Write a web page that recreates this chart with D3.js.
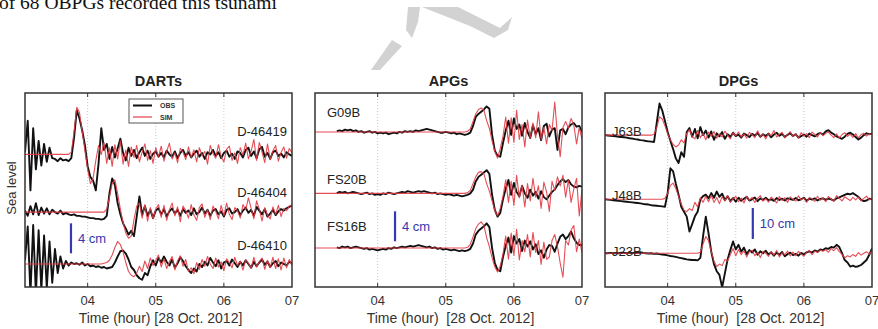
<!DOCTYPE html>
<html>
<head>
<meta charset="utf-8">
<script src="https://cdn.jsdelivr.net/npm/d3@7"></script>
<style>
  body { margin: 0; background: #fff; }
  svg { display: block; }
</style>
</head>
<body>
<script>
// time axis: samples every 0.04 h starting 03:05 (3.08 h)
const t0 = 3.08
const dt = 0.04
const hourTicks = [4, 5, 6, 7]
const tickLabels = ['04', '05', '06', '07']

// DARTs (cm)
const d46419Obs = [0.3, 4.5, -4.8, 3.5, -2.0, 1.8, -1.5, 1.4, -1.0, 0.9,
  -0.5, -0.6, -0.9, -0.5, -0.8, -0.7, -0.9, -0.5, 2.2, 5.9,
  4.8, 3.2, 1.2, -1.6, -3.0, -3.5, -4.8, -1.2, 3.5, 0.6,
  1.4, -0.6, 1.0, -0.4, 0.8, 2.1, 0.2, -0.8, 0.9, -0.2,
  0.6, -0.5, 0.3, 0.9, -0.2, 0.5, -0.6, 0.1, 0.4, -0.3,
  0.2, -0.4, 0.5, 0.0, -0.3, 0.4, -0.5, 0.2, 0.6, -0.2,
  0.3, -0.4, 0.1, 0.5, -0.3, 0.2, -0.6, 0.3, 0.0, 0.6,
  -0.2, 0.3, -0.5, 0.2, 0.5, -0.3, 0.1, -0.6, 0.4, 0.2,
  -0.4, 0.6, 0.9, -0.2, 0.4, -0.5, 0.7, 1.0, -0.3, 0.2,
  -0.6, 0.3, 0.5, -0.2, 0.1, -0.4, 0.3, 0.0, -0.2]
const d46419Sim = [0, 0, 0, 0, 0, 0, 0, 0, 0, 0,
  0, 0, 0, 0, 0, 0, 0, 0.3, 3.0, 6.3,
  5.6, 3.0, 0.5, -2.0, -3.9, -3.2, -0.8, 1.2, 0.0, 1.6,
  -1.2, 0.9, -1.6, 1.3, -0.6, 1.8, -1.3, 0.6, -1.6, 1.0,
  -0.4, 1.2, -1.0, 0.3, 1.4, -0.8, 0.5, -1.2, 0.9, -0.3,
  1.1, -0.9, 0.4, 1.5, -0.6, 0.2, -1.1, 0.8, 0.3, -0.7,
  1.0, -0.4, 0.6, -1.0, 0.9, -0.2, 0.4, -1.3, 1.2, 0.1,
  -0.5, 1.3, -0.3, -1.0, 0.7, 1.1, -0.8, 0.2, -1.2, 0.9,
  -0.1, 1.5, -0.6, 0.4, 2.0, -0.8, 1.6, 0.3, -1.1, 1.4,
  -0.7, 0.5, 1.2, -0.9, 0.3, 1.0, -0.5, 0.8, 0.2]
const d46404Obs = [0.2, -0.5, 0.8, -0.3, 1.2, -0.4, 0.6, -0.2, 0.5, -0.3,
  0.3, 0.0, -0.2, 0.2, -0.3, -0.1, -0.3, -0.4, -0.3, -0.5,
  -0.5, -0.6, -0.6, -0.7, -0.8, -0.8, -0.9, -0.9, -1.0, -0.9,
  -0.5, 2.5, 4.5, 3.6, 1.2, -0.3, -1.5, -2.2, -3.0, -2.5,
  -3.2, -0.6, 2.1, -0.4, 0.8, -0.5, 0.3, -0.8, 0.2, 0.5,
  -0.3, 0.4, -0.6, 0.1, 0.5, -0.2, 0.3, -0.5, 0.4, -0.1,
  0.2, -0.4, 0.5, -0.3, 0.0, 0.6, -0.2, 0.3, -0.5, 0.2,
  0.4, -0.3, 0.1, -0.6, 0.3, 0.5, -0.2, 0.0, 0.4, -0.4,
  0.2, 0.6, -0.1, 0.3, -0.5, 0.7, 0.2, -0.3, 0.4, -0.6,
  -0.2, 0.3, -0.4, 0.1, 0.4, 0.2, 0.5, 0.7, 0.9]
const d46404Sim = [0, 0, 0, 0, 0, 0, 0, 0, 0, 0,
  0, 0, 0, 0, 0, 0, 0, 0, 0, 0,
  0, 0, 0, 0, 0, 0, 0, 0, 0, 0,
  0.4, 2.0, 3.8, 4.3, 2.5, 0.4, -1.4, -2.8, -3.5, -3.2,
  -1.0, 0.8, 1.2, -0.8, 1.0, -1.2, 0.6, -0.9, 0.4, 1.0,
  -0.7, 0.9, -1.1, 0.3, 1.2, -0.5, 0.7, -1.3, 0.8, 0.2,
  -0.8, 1.0, -0.4, -1.1, 0.6, 1.1, -0.7, 0.3, -1.0, 0.8,
  0.1, -0.9, 0.9, -0.5, 1.2, -0.3, -1.0, 0.6, 0.2, -0.8,
  1.0, 0.3, 1.9, 0.5, -0.9, 1.5, 0.4, -1.2, 0.6, -0.4,
  -0.9, 0.7, -0.3, 0.9, -0.6, 0.5, 0.2, 0.8, 0.9]
const d46410Obs = [0.5, 5.0, -4.0, 5.2, -4.0, 4.5, -3.5, 3.8, -3.2, 3.0,
  -2.5, 2.0, -1.2, 1.0, -0.6, 0.4, -0.2, 0.2, 0.0, 0.1,
  -0.1, 0.2, -0.2, 0.0, -0.3, -0.2, -0.4, -0.3, -0.5, -0.4,
  -0.6, -0.5, -0.4, 0.2, 1.0, 1.7, 1.8, 1.4, 0.6, -0.4,
  -0.8, -1.5, -1.9, -2.1, -1.2, -1.5, -0.3, 0.5, -0.2, 0.8,
  0.2, 1.0, 0.3, -0.2, 0.6, -0.5, 0.1, 0.9, 0.4, -0.3,
  -0.8, -1.2, -0.6, -1.0, 0.0, -0.4, 0.3, -0.2, 0.8, 0.2,
  -0.3, 0.5, -0.6, 0.2, 0.4, -0.2, 0.6, 0.1, -0.4, 0.3,
  -0.2, 0.5, 0.0, -0.5, 0.3, -0.3, 0.2, 0.6, -0.1, 0.3,
  -0.4, 0.1, 0.4, -0.3, 0.2, 0.0, -0.2, 0.3, 0.1]
const d46410Sim = [0, 0, 0, 0, 0, 0, 0, 0, 0, 0,
  0, 0, 0, 0, 0, 0, 0, 0, 0, 0,
  0, 0, 0, 0, 0, 0, 0, 0, 0, 0.1,
  0.2, 0.5, 1.2, 2.2, 3.0, 2.6, 1.6, 0.2, -1.0, -1.5,
  -1.7, -1.2, -0.3, -1.0, 0.4, -0.6, 0.8, -0.2, 0.5, 1.2,
  -0.4, 0.7, -0.6, 0.3, 1.0, -0.8, 0.4, 1.1, -0.3, 0.6,
  -1.0, -0.5, -1.3, 0.2, -0.7, 0.6, -0.3, 1.0, 0.0, -0.6,
  0.8, -0.4, 0.3, -0.9, 0.7, 0.2, -0.5, 0.9, -0.2, 0.4,
  -0.8, 0.6, 0.1, -0.6, 0.9, -0.4, 0.3, 0.8, -0.7, 0.5,
  -0.5, 0.9, -0.6, 0.7, -0.8, 0.8, -0.5, 0.6, -0.2]

// APGs (cm), no OBS record before 03:24
const g09bObs = [null, null, null, null, null, null, null, null, 0.1, 0.2,
  0.1, 0.3, 0.2, 0.3, 0.1, 0.2, 0.0, 0.1, -0.1, 0.0,
  0.1, -0.1, 0.0, -0.2, -0.1, -0.2, -0.1, -0.3, -0.2, -0.1,
  -0.2, 0.0, -0.1, 0.1, 0.0, 0.1, 0.0, 0.2, 0.1, 0.2,
  0.3, 0.4, 0.3, 0.2, 0.1, 0.0, -0.1, -0.1, 0.0, -0.1,
  -0.2, -0.1, -0.3, -0.2, -0.3, -0.4, -0.3, -0.1, 0.8, 2.0,
  2.4, 2.7, 3.0, 3.4, 3.1, -0.4, -2.5, -3.2, -3.3, -1.5,
  0.2, 1.5, -0.4, 1.8, 0.4, 1.0, -0.5, 1.2, 0.0, -0.8,
  0.9, -0.3, 0.5, -1.1, 0.8, 1.1, -0.6, 0.3, 0.5, -2.4,
  0.2, 0.4, -0.3, 0.6, 1.0, 1.2, 0.7, 0.8, 0.0]
const g09bSim = [0, 0, 0, 0, 0, 0, 0, 0, 0, 0,
  0, 0, 0, 0, 0, 0, 0, 0, 0, 0,
  0, 0, 0, 0, 0, 0, 0, 0, 0, 0,
  0, 0, 0, 0, 0, 0, 0, 0, 0, 0,
  0, 0, 0, 0, 0, 0, 0, 0, 0, 0,
  0, 0, 0, 0, 0, 0, 0.1, 0.4, 1.4, 2.4,
  3.0, 3.2, 2.9, 1.5, 0.5, -1.2, -2.6, -3.5, -2.2, -0.6,
  2.0, -1.5, 1.9, -1.4, 2.9, -1.0, 1.0, -2.0, 1.6, -0.8,
  1.2, -0.8, 2.7, -1.0, 0.6, -1.6, 1.0, 0.2, 4.0, -0.5,
  -3.3, 0.6, 1.4, 0.5, 1.8, 0.9, -1.6, 0.6, -1.0]
const fs20bObs = [null, null, null, null, null, null, null, null, 0.0, 0.2,
  0.1, 0.2, 0.0, 0.1, 0.2, 0.1, 0.0, -0.1, 0.0, 0.1,
  -0.1, 0.0, -0.2, -0.1, -0.2, 0.0, -0.1, 0.1, 0.0, -0.1,
  0.0, 0.1, 0.2, 0.1, 0.3, 0.2, 0.1, 0.2, 0.3, 0.2,
  0.3, 0.2, 0.1, 0.0, 0.1, -0.1, 0.0, -0.1, -0.2, -0.1,
  -0.2, -0.3, -0.2, -0.3, -0.4, -0.3, -0.2, 0.0, 0.5, 1.6,
  2.2, 2.5, 2.8, 3.1, 2.6, -0.2, -2.2, -3.1, -2.6, -0.8,
  0.6, 1.8, -0.2, 1.4, 0.2, -0.4, 1.0, 0.0, -0.6, 0.5,
  -0.3, 0.2, -0.7, 0.3, -0.5, -0.8, -0.3, 0.2, 0.5, 1.1,
  1.6, 1.9, 1.5, 1.8, 1.2, 0.9, 0.8, 1.0, 0.9]
const fs20bSim = [0, 0, 0, 0, 0, 0, 0, 0, 0, 0,
  0, 0, 0, 0, 0, 0, 0, 0, 0, 0,
  0, 0, 0, 0, 0, 0, 0, 0, 0, 0,
  0, 0, 0, 0, 0, 0, 0, 0, 0, 0,
  0, 0, 0, 0, 0, 0, 0, 0, 0, 0,
  0, 0, 0, 0, 0, 0, 0.1, 0.4, 1.3, 2.2,
  2.8, 2.9, 2.6, 1.3, 0.3, -1.0, -2.3, -3.0, -2.0, -0.4,
  1.8, -1.2, 1.6, -1.6, 2.4, -0.6, 1.1, -1.8, 1.3, -1.0,
  2.0, -0.5, 1.0, -2.0, 1.5, 0.2, -2.4, 1.6, 0.4, 2.2,
  1.0, 2.4, -0.5, 1.8, -1.2, 0.6, 2.0, -3.0, 0.5]
const fs16bObs = [null, null, null, null, null, null, null, null, 0.1, 0.0,
  0.2, 0.1, 0.2, 0.0, 0.1, 0.2, 0.1, 0.0, -0.1, 0.0,
  -0.2, -0.1, -0.2, -0.3, -0.2, -0.1, -0.2, 0.0, -0.1, 0.1,
  0.0, 0.1, 0.2, 0.1, 0.2, 0.3, 0.2, 0.3, 0.4, 0.3,
  0.2, 0.1, 0.2, 0.0, 0.1, -0.1, 0.0, -0.2, -0.1, -0.2,
  -0.3, -0.2, -0.3, -0.4, -0.3, -0.4, -0.3, -0.1, 0.6, 1.8,
  2.3, 2.6, 2.9, 3.3, 2.8, 0.0, -2.0, -2.9, -3.1, -1.2,
  0.3, 1.4, -0.6, 1.6, 0.6, 1.2, -0.4, 1.0, 0.2, 0.9,
  -0.2, 0.5, -0.8, -0.3, -1.3, -0.2, 0.4, 0.3, -0.5, 0.6,
  1.5, 1.8, 1.2, 1.6, 2.2, 1.3, 0.7, 0.4, 0.4]
const fs16bSim = [0, 0, 0, 0, 0, 0, 0, 0, 0, 0,
  0, 0, 0, 0, 0, 0, 0, 0, 0, 0,
  0, 0, 0, 0, 0, 0, 0, 0, 0, 0,
  0, 0, 0, 0, 0, 0, 0, 0, 0, 0,
  0, 0, 0, 0, 0, 0, 0, 0, 0, 0,
  0, 0, 0, 0, 0, 0, 0.1, 0.5, 1.5, 2.6,
  3.2, 3.5, 3.0, 1.4, 0.2, -1.3, -2.5, -3.2, -2.4, -0.8,
  1.6, -1.5, 2.0, -1.0, 2.5, -1.6, 1.0, -0.5, 1.8, -1.2,
  2.1, -0.6, 1.0, -2.2, 0.8, -1.5, -1.2, 1.0, 1.8, 0.2,
  -2.0, -3.9, 1.0, 0.4, 2.4, 3.0, -0.5, 1.2, -0.6]

// DPGs (cm)
const j63bObs = [0.0, -0.1, -0.2, -0.3, -0.4, -0.5, -0.6, -0.7, -0.8, -1.0,
  -1.1, -1.3, -1.4, -1.6, -1.7, -1.9, -2.0, -2.1, -2.2, 4.0,
  10.2, 8.0, 4.6, 1.0, -1.8, -4.5, -7.5, -9.0, -5.5, -7.0,
  1.0, 2.3, -0.5, 2.0, -1.0, 2.6, 0.0, 1.5, -0.8, 1.2,
  -1.5, 0.6, -0.4, 1.0, -1.2, 0.3, -0.6, 0.8, -0.3, 0.2,
  -0.8, 0.5, 0.0, -0.6, 0.4, -0.2, 0.7, -0.5, 0.3, -0.3,
  0.5, -0.7, 0.2, 0.8, -0.2, 0.4, -0.6, 0.1, 0.6, -0.3,
  0.3, -0.8, -0.3, 0.2, -0.5, 0.5, 0.0, -0.4, 0.3, 0.7,
  0.2, 1.2, 1.6, 0.8, 0.3, -0.4, -0.8, -1.2, -0.5, 0.4,
  0.8, 0.2, -0.6, -1.4, -0.8, 0.0, 0.6, 0.3, 0.5]
const j63bSim = [0, 0, 0, 0, 0, 0, 0, 0, 0, 0,
  0, 0, 0, 0, 0, 0, 0, 0, 0.3, 2.5,
  5.9, 5.2, 3.0, 0.5, -1.5, -3.0, -3.8, -3.2, -1.5, -2.5,
  0.5, 1.8, -0.5, -1.2, 1.5, -0.8, 0.6, -1.5, 1.0, -0.4,
  1.2, -1.0, 0.4, -0.6, 1.3, 0.0, -1.2, 0.8, -0.2, 1.0,
  -0.6, 0.4, -1.0, 0.9, 0.2, -0.8, 1.4, -0.4, 0.3, -1.2,
  0.6, -0.2, 1.5, -0.6, 0.3, 0.9, -0.9, 0.2, 1.1, -0.5,
  0.4, -1.0, 0.8, -0.3, 0.5, -0.8, 1.0, 0.2, -0.6, 0.9,
  -0.2, 0.6, 1.0, 0.0, -0.8, 0.4, -1.0, 0.2, 0.8, -0.4,
  0.3, -0.7, 0.5, -0.9, 0.2, 0.6, -0.3, 0.4, 0.2]
const j48bObs = [0.0, -0.1, -0.2, -0.3, -0.4, -0.5, -0.6, -0.7, -0.8, -0.9,
  -1.0, -1.1, -1.2, -1.3, -1.5, -1.6, -1.7, -1.9, -2.0, -2.1,
  -2.2, -2.3, -2.4, 2.0, 10.0, 9.0, 5.0, 1.5, -2.4, -4.0,
  -5.6, -10.4, -8.0, -5.5, -4.0, 0.0, 1.0, 1.5, 0.3, 2.0,
  0.5, 2.5, 0.8, 1.8, -0.3, 1.0, -0.6, 0.4, -0.8, 0.5,
  -0.5, 0.2, 0.8, -0.4, 0.0, 0.6, -0.6, 0.3, -0.2, 0.5,
  -0.3, 0.0, -0.5, 0.4, -0.2, 0.2, -0.4, 0.3, 0.1, -0.2,
  0.4, -0.3, 0.0, 0.5, -0.5, 0.2, -0.1, 0.3, -0.4, 0.1,
  0.3, -0.2, 0.2, 0.0, -0.4, 0.3, 0.6, 1.0, 1.4, 1.8,
  1.6, 2.0, 1.4, 0.8, -0.2, -0.6, -0.4, 0.2, 0.0]
const j48bSim = [0, 0, 0, 0, 0, 0, 0, 0, 0, 0,
  0, 0, 0, 0, 0, 0, 0, 0, 0, 0,
  0, 0, 0.3, 2.0, 4.5, 5.2, 3.5, 1.0, -1.5, -3.5,
  -4.0, -3.0, -3.6, -1.0, -2.5, 0.5, -1.0, 1.0, -0.8, 1.2,
  -1.0, 0.6, -1.4, 0.8, -0.5, 1.2, -1.0, 0.2, 0.9, -0.8,
  0.4, -1.2, 1.0, -0.3, 0.6, -1.0, 0.3, 1.2, -0.6, 0.2,
  -0.9, 0.7, 0.0, -1.2, 0.9, -0.4, 0.5, -1.0, 0.8, 0.0,
  -0.6, 1.1, -0.2, 0.4, -1.0, 0.6, 0.2, -0.7, 1.0, -0.3,
  0.5, -0.8, 0.9, 0.1, -0.6, 1.2, 0.3, -0.5, 0.8, 0.2,
  -0.4, 0.6, -0.2, 0.8, -0.5, 0.3, 1.0, -0.2, 0.4]
const j23bObs = [0.0, 0.0, 0.1, 0.0, 0.1, 0.0, 0.2, 0.1, 0.0, 0.1,
  0.0, 0.2, 0.1, 0.3, 0.1, 0.0, -0.1, 0.0, -0.2, -0.1,
  -0.3, -0.4, -0.5, -0.7, -0.9, -1.0, -1.2, -1.4, -1.6, -1.8,
  -2.0, -2.1, -2.2, -2.2, -2.3, -1.5, 5.5, 11.8, 6.4, 0.5,
  -3.5, -5.8, -7.0, -11.0, -6.5, -2.0, 1.0, 3.8, 1.2, 2.7,
  0.5, 1.8, -0.3, 1.0, 0.2, 1.2, -0.5, 0.6, 0.0, 0.8,
  -0.4, 0.3, -0.8, 0.2, -0.5, 0.4, -1.0, -0.3, 0.2, -0.6,
  -0.2, -0.8, 0.1, -0.4, 0.3, 0.6, 0.2, 0.9, 0.5, 1.2,
  1.0, 1.6, 1.4, 2.0, 1.8, 2.7, 2.0, 0.0, -2.2, -3.0,
  -4.3, -4.0, -4.4, -4.2, -3.8, -3.0, -2.2, -0.5, 1.6]
const j23bSim = [0, 0, 0, 0, 0, 0, 0, 0, 0, 0,
  0, 0, 0, 0, 0, 0, 0, 0, 0, 0,
  0, 0, 0, 0, 0, 0, 0, 0, 0, 0,
  0, 0, 0, 0, 0, 0.3, 3.0, 5.4, 4.0, 0.5,
  -2.5, -4.3, -3.5, -4.0, -2.0, -2.5, -0.5, 1.5, -0.8, 1.2,
  -0.5, 0.8, -1.2, 0.5, 1.0, -0.8, 0.3, -1.4, 0.6, 0.0,
  -1.0, 0.5, -0.6, 0.9, -1.2, 0.2, -0.5, 0.7, -0.9, 0.4,
  -0.8, 0.6, -0.2, -1.0, 0.4, 0.9, -0.5, 0.7, 0.2, 1.0,
  0.6, 1.2, 0.3, 1.5, 0.8, 1.8, 0.5, -0.4, -1.5, -0.8,
  -1.2, -0.4, -1.0, 0.2, -0.6, 0.0, 0.5, -0.3, 0.8]

// station names and baseline offsets (cm above the frame bottom)
const dartNames = ['D-46419', 'D-46404', 'D-46410']
const dartOffsets = [17.7, 10.0, 3.07]
const apgNames = ['G09B', 'FS20B', 'FS16B']
const apgOffsets = [20.7, 12.5, 5.2]
const dpgNames = ['J63B', 'J48B', 'J23B']
const dpgOffsets = [49.0, 28.3, 10.9]

const panels = [
  {
    title: 'DARTs', left: 25, span: 25.9, xlabel: 'Time (hour) [28 Oct. 2012]',
    names: dartNames, offsets: dartOffsets,
    obs: [d46419Obs, d46404Obs, d46410Obs], sim: [d46419Sim, d46404Sim, d46410Sim],
    bar: { cm: 4, t: 3.755, base: 4.5 },
    labelAnchor: 'end', labelDy: [-18, -15, -14], legend: true
  },
  {
    title: 'APGs', left: 315, span: 25.9, xlabel: 'Time (hour)  [28 Oct. 2012]',
    names: apgNames, offsets: apgOffsets,
    obs: [g09bObs, fs20bObs, fs16bObs], sim: [g09bSim, fs20bSim, fs16bSim],
    bar: { cm: 4, t: 4.255, base: 6.1 },
    labelAnchor: 'start', labelDy: [-15, -9, -17]
  },
  {
    title: 'DPGs', left: 605, span: 62.6, xlabel: 'Time (hour)  [28 Oct. 2012]',
    names: dpgNames, offsets: dpgOffsets,
    obs: [j63bObs, j48bObs, j23bObs], sim: [j63bSim, j48bSim, j23bSim],
    bar: { cm: 10, t: 5.25, base: 15.5 },
    labelAnchor: 'start', labelDy: [1, 1, 3]
  }
]

const width = 878
const height = 329
const frameTop = 93
const frameBottom = 287
const frameW = 267
const font = 'Liberation Sans, Arial, Helvetica, sans-serif'
const obsColor = '#111'
const simColor = '#e23b45'
const barColor = '#3538b0'

const svg = d3.select('body').append('svg')
  .attr('width', width)
  .attr('height', height)
  .style('font-family', font)

// line of body text above the figure, cut at the page top
svg.append('text')
  .attr('x', -1)
  .attr('y', 9)
  .attr('font-family', 'Liberation Serif, Times New Roman, serif')
  .attr('font-size', 19.5)
  .attr('fill', '#111')
  .text('of 68 OBPGs recorded this tsunami')

// faint watermark
svg.append('g')
  .attr('fill', '#d2d2d2')
  .selectAll('path')
  .data([
    'M408,7 L420,7 L418,22 L412,38 L406,30 Z',
    'M422,7 L458,7 L500,28 L512,17 L508,30 L494,38 L470,26 Z',
    'M392,40 L402,46 L380,70 L371,70 Z'
  ])
  .join('path')
  .attr('d', d => d)

panels.forEach((p, pi) => {
  const x = d3.scaleLinear().domain([t0, 7]).range([p.left, p.left + frameW])
  const y = d3.scaleLinear().domain([0, p.span]).range([frameBottom, frameTop])
  const g = svg.append('g')

  const clipId = `clip-${pi}`
  svg.append('clipPath').attr('id', clipId)
    .append('rect')
    .attr('x', p.left).attr('y', frameTop)
    .attr('width', frameW).attr('height', frameBottom - frameTop)

  // dotted grid lines
  g.selectAll('line.grid')
    .data(hourTicks.slice(0, 3))
    .join('line')
    .attr('class', 'grid')
    .attr('x1', d => x(d)).attr('x2', d => x(d))
    .attr('y1', frameTop).attr('y2', frameBottom)
    .attr('stroke', '#b8b8b8')
    .attr('stroke-width', 0.8)
    .attr('stroke-dasharray', '1,2')

  // inner tick marks top and bottom
  g.selectAll('line.tick-b')
    .data(hourTicks.slice(0, 3))
    .join('line')
    .attr('class', 'tick-b')
    .attr('x1', d => x(d)).attr('x2', d => x(d))
    .attr('y1', frameBottom).attr('y2', frameBottom - 4)
    .attr('stroke', '#333')
  g.selectAll('line.tick-t')
    .data(hourTicks.slice(0, 3))
    .join('line')
    .attr('class', 'tick-t')
    .attr('x1', d => x(d)).attr('x2', d => x(d))
    .attr('y1', frameTop).attr('y2', frameTop + 4)
    .attr('stroke', '#333')

  // traces: OBS below, SIM on top
  const traces = g.append('g').attr('clip-path', `url(#${clipId})`)
  p.offsets.forEach((off, k) => {
    const line = d3.line()
      .defined(v => v != null)
      .x((v, i) => x(t0 + i * dt))
      .y(v => y(off + v))
    traces.append('path')
      .attr('d', line(p.obs[k]))
      .attr('fill', 'none')
      .attr('stroke', obsColor)
      .attr('stroke-width', 1.9)
      .attr('stroke-linejoin', 'round')
    traces.append('path')
      .attr('d', line(p.sim[k]))
      .attr('fill', 'none')
      .attr('stroke', simColor)
      .attr('stroke-width', 1.1)
      .attr('stroke-opacity', 0.9)
      .attr('stroke-linejoin', 'round')
  })

  // station labels
  g.selectAll('text.station')
    .data(p.names)
    .join('text')
    .attr('class', 'station')
    .attr('x', p.labelAnchor === 'end' ? p.left + frameW - 5 : p.left + (pi === 1 ? 12 : 7))
    .attr('y', (d, k) => y(p.offsets[k]) + p.labelDy[k])
    .attr('text-anchor', p.labelAnchor)
    .attr('font-size', 13)
    .attr('fill', '#222')
    .text(d => d)

  // scale bar
  g.append('line')
    .attr('x1', x(p.bar.t)).attr('x2', x(p.bar.t))
    .attr('y1', y(p.bar.base)).attr('y2', y(p.bar.base + p.bar.cm))
    .attr('stroke', barColor)
    .attr('stroke-width', 2.2)
  g.append('text')
    .attr('x', x(p.bar.t) + 7)
    .attr('y', (y(p.bar.base) + y(p.bar.base + p.bar.cm)) / 2 + 5)
    .attr('font-size', 13)
    .attr('fill', barColor)
    .text(`${p.bar.cm} cm`)

  // frame
  g.append('rect')
    .attr('x', p.left).attr('y', frameTop)
    .attr('width', frameW).attr('height', frameBottom - frameTop)
    .attr('fill', 'none')
    .attr('stroke', '#333')
    .attr('stroke-width', 1.5)

  // tick labels
  g.selectAll('text.tl')
    .data(hourTicks)
    .join('text')
    .attr('class', 'tl')
    .attr('x', d => x(d))
    .attr('y', 305)
    .attr('text-anchor', 'middle')
    .attr('font-size', 13)
    .attr('fill', '#333')
    .text((d, i) => tickLabels[i])

  g.append('text')
    .attr('x', p.left + frameW / 2 + 2)
    .attr('y', 323)
    .attr('text-anchor', 'middle')
    .attr('font-size', 14)
    .attr('fill', '#333')
    .style('white-space', 'pre')
    .text(p.xlabel)

  g.append('text')
    .attr('x', p.left + frameW / 2)
    .attr('y', 86)
    .attr('text-anchor', 'middle')
    .attr('font-size', 14.5)
    .attr('font-weight', 'bold')
    .attr('fill', '#222')
    .text(p.title)

  if (p.legend) {
    const lg = g.append('g')
    lg.append('rect')
      .attr('x', 129).attr('y', 99).attr('width', 54).attr('height', 24)
      .attr('fill', '#fff').attr('stroke', '#555').attr('stroke-width', 1)
    const items = [{ name: 'OBS', color: obsColor, w: 2 }, { name: 'SIM', color: simColor, w: 1.2 }]
    items.forEach((it, k) => {
      const ly = 105.5 + k * 11.5
      lg.append('line')
        .attr('x1', 133).attr('x2', 152).attr('y1', ly).attr('y2', ly)
        .attr('stroke', it.color).attr('stroke-width', it.w)
      lg.append('text')
        .attr('x', 160).attr('y', ly + 2.5)
        .attr('font-size', 7).attr('font-weight', 'bold').attr('fill', '#333')
        .text(it.name)
    })
  }
})

svg.append('text')
  .attr('transform', 'translate(16,188) rotate(-90)')
  .attr('text-anchor', 'middle')
  .attr('font-size', 13)
  .attr('fill', '#333')
  .text('Sea level')
</script>
</body>
</html>
